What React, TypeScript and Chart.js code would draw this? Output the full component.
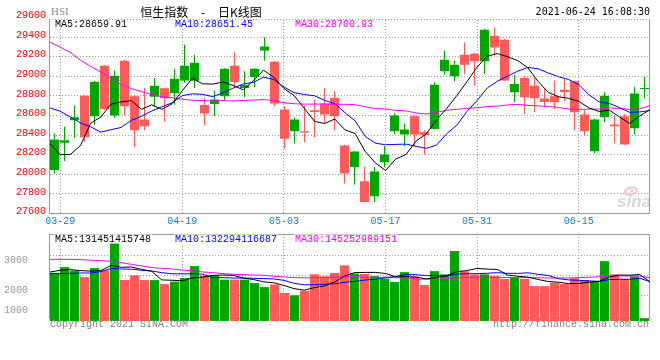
import React, { useEffect, useRef } from 'react';
import { Chart, registerables } from 'chart.js';

Chart.register(...registerables);

// ---------------- data ----------------
const DATES = ['03-26','03-29','03-30','03-31','04-01','04-07','04-08','04-09','04-12','04-13',
  '04-14','04-15','04-16','04-19','04-20','04-21','04-22','04-23','04-26','04-27',
  '04-28','04-29','04-30','05-03','05-04','05-05','05-06','05-07','05-10','05-11',
  '05-12','05-13','05-14','05-17','05-18','05-20','05-21','05-24','05-25','05-26',
  '05-27','05-28','05-31','06-01','06-02','06-03','06-04','06-07','06-08','06-09',
  '06-10','06-11','06-15','06-16','06-17','06-18','06-21','06-22','06-23','06-24'];

const OPEN = [28043, 28321, 28551, 28802, 28592, 29108, 28599, 29158, 28796, 28558,
  28792, 28877, 28826, 28958, 28955, 28708, 28718, 28796, 29108, 28880,
  28992, 29263, 29148, 28660, 28440, 28440, 28653, 28721, 28782, 28294,
  28074, 27928, 27775, 28124, 28440, 28406, 28592, 28430, 28463, 29050,
  28999, 29219, 29230, 29152, 29413, 29372, 28836, 28982, 28904, 28772,
  28796, 28863, 28948, 28609, 28236, 28582, 28508, 28592, 28470, 28871];
const HIGH = [28416, 28486, 28701, 28806, 28951, 29116, 29060, 29166, 28806, 28880,
  28982, 28886, 29077, 29321, 29219, 28779, 28853, 29081, 29243, 29050,
  29081, 29399, 29156, 28694, 28579, 28701, 28762, 28884, 28846, 28301,
  28238, 28074, 28074, 28287, 28619, 28518, 28600, 28450, 28938, 29260,
  29162, 29345, 29238, 29484, 29497, 29382, 29016, 29006, 28982, 28874,
  28958, 28972, 28956, 28653, 28566, 28836, 28599, 28616, 28891, 28992];
const LOW = [28009, 28136, 28372, 28328, 28507, 28656, 28575, 28599, 28277, 28450,
  28694, 28535, 28711, 28931, 28880, 28501, 28592, 28752, 28897, 28785,
  28887, 29162, 28694, 28260, 28314, 28328, 28379, 28524, 28450, 27907,
  27897, 27716, 27718, 28074, 28406, 28287, 28294, 28202, 28456, 29016,
  28948, 29026, 28904, 29026, 29213, 28951, 28735, 28616, 28633, 28687,
  28667, 28745, 28450, 28396, 28213, 28531, 28314, 28296, 28406, 28772];
const CLOSE = [28355, 28346, 28582, 28379, 28945, 28667, 29006, 28694, 28450, 28491,
  28904, 28775, 28975, 29108, 29138, 28619, 28762, 29077, 28941, 28911,
  29077, 29304, 28721, 28362, 28558, 28426, 28636, 28609, 28592, 28009,
  28233, 27718, 28029, 28202, 28599, 28457, 28406, 28402, 28914, 29169,
  29118, 29118, 29152, 29474, 29294, 28958, 28921, 28785, 28775, 28738,
  28735, 28840, 28633, 28440, 28558, 28802, 28491, 28304, 28823, 28880];

const MA5 = [28311, 28202, 28202, 28294, 28521, 28584, 28716, 28738, 28752, 28662,
  28709, 28663, 28719, 28851, 28980, 28923, 28920, 28941, 28907, 28862,
  28954, 29062, 28991, 28875, 28804, 28674, 28541, 28518, 28564, 28454,
  28416, 28232, 28116, 28038, 28156, 28201, 28339, 28413, 28556, 28670,
  28802, 28944, 29094, 29206, 29231, 29199, 29160, 29086, 28947, 28835,
  28791, 28775, 28744, 28677, 28641, 28655, 28585, 28519, 28596, 28660];
const MA10 = [28677, 28643, 28585, 28524, 28484, 28430, 28455, 28478, 28550, 28592,
  28646, 28689, 28729, 28802, 28821, 28816, 28792, 28830, 28879, 28921,
  28938, 28991, 28966, 28891, 28833, 28814, 28801, 28755, 28720, 28629,
  28545, 28386, 28317, 28301, 28305, 28308, 28285, 28265, 28297, 28413,
  28501, 28641, 28754, 28881, 28950, 29001, 29052, 29090, 29076, 29033,
  28995, 28967, 28915, 28812, 28738, 28723, 28680, 28632, 28636, 28651];
const MA30 = [29348, 29297, 29243, 29162, 29101, 29043, 28979, 28914, 28874, 28843,
  28813, 28792, 28782, 28765, 28755, 28752, 28748, 28752, 28748, 28752,
  28758, 28762, 28752, 28730, 28720, 28716, 28716, 28716, 28715, 28714,
  28710, 28689, 28671, 28665, 28653, 28646, 28626, 28616, 28632, 28654,
  28662, 28673, 28679, 28691, 28696, 28708, 28713, 28703, 28698, 28692,
  28681, 28665, 28662, 28665, 28665, 28677, 28672, 28662, 28670, 28699];

// turnover, 亿 HKD
const VOLUME = [1617, 1809, 1691, 1473, 1775, 1701, 2685, 1376, 1534, 1372,
  1372, 1238, 1322, 1443, 1842, 1517, 1527, 1389, 1389, 1389,
  1272, 1138, 1225, 940, 862, 1013, 1567, 1500, 1611, 1869,
  1594, 1577, 1507, 1423, 1309, 1641, 1490, 1208, 1674, 1567,
  2349, 1668, 1560, 1567, 1507, 1409, 1466, 1413, 1171, 1171,
  1282, 1242, 1433, 1376, 1322, 2010, 1567, 1413, 1500, 83];
const VOL_MA5 = [1644, 1701, 1725, 1691, 1673, 1690, 1865, 1802, 1814, 1734,
  1668, 1378, 1368, 1349, 1443, 1472, 1530, 1544, 1533, 1442,
  1393, 1315, 1283, 1193, 1087, 1036, 1121, 1176, 1311, 1512,
  1628, 1630, 1632, 1594, 1482, 1491, 1474, 1414, 1464, 1516,
  1658, 1693, 1764, 1742, 1730, 1542, 1502, 1472, 1393, 1326,
  1301, 1256, 1260, 1301, 1331, 1477, 1542, 1538, 1562, 1315];
const VOL_MA10 = [1591, 1591, 1601, 1611, 1611, 1655, 1760, 1745, 1740, 1703,
  1679, 1622, 1585, 1582, 1589, 1570, 1454, 1456, 1441, 1443,
  1433, 1423, 1413, 1363, 1265, 1214, 1218, 1230, 1252, 1300,
  1332, 1376, 1404, 1452, 1497, 1560, 1552, 1523, 1529, 1499,
  1575, 1584, 1589, 1603, 1623, 1600, 1598, 1618, 1568, 1528,
  1421, 1379, 1366, 1347, 1329, 1389, 1399, 1399, 1432, 1323];
const VOL_MA30 = [2070, 2070, 2070, 2060, 2037, 2026, 2003, 1959, 1900, 1850,
  1792, 1768, 1745, 1711, 1691, 1644, 1624, 1591, 1567, 1557,
  1544, 1534, 1500, 1477, 1456, 1450, 1455, 1460, 1470, 1482,
  1481, 1473, 1467, 1466, 1450, 1448, 1408, 1403, 1407, 1414,
  1446, 1461, 1469, 1473, 1462, 1458, 1456, 1457, 1450, 1442,
  1443, 1446, 1453, 1468, 1483, 1516, 1516, 1513, 1510, 1450];

const X_TICK_DATES = ['03-29', '04-19', '05-03', '05-17', '05-31', '06-15'];
const PRICE_TICKS = [27600, 27800, 28000, 28200, 28400, 28600, 28800, 29000, 29200, 29400, 29600];
const VOL_TICK_LABELS = ['3000', '2000', '1000'];

const CODE_TEXT = 'HSI';
const TITLE_TEXT = '恒生指数 - 日K线图';
const TIME_TEXT = '2021-06-24 16:08:30';
const MA_TEXTS = ['MA5:28659.91', 'MA10:28651.45', 'MA30:28700.93'];
const VOL_MA_TEXTS = ['MA5:131451415748', 'MA10:132294116687', 'MA30:145252989151'];
const COPYRIGHT_TEXT = 'Copyright 2021 SINA.COM';
const URL_TEXT = 'http://finance.sina.com.cn';
const WATERMARK_TEXT = 'sina';

// ---------------- style / layout ----------------
const UP_COLOR = '#00a600';
const DOWN_COLOR = '#ff5a5a';
const GRID_COLOR = '#a0a0a0';
const FRAME_COLOR = '#999999';
const MA_COLORS = ['#000000', '#0000ff', '#ff00ff'];
const MONO = '"Liberation Mono", "DejaVu Sans Mono", monospace';
const Y_MIN = 27600;
const Y_MAX = 29574;
const VOL_MAX = 2920;
const TEXT_X = [55, 175, 295];
const VOL_PANEL_H = 87;
const VOL_LABEL_POS = [60.7, 30.3, 10.3];
const VOL_GRID_POS = [65.7, 45.7, 25.7];

const candleColors = OPEN.map((o, i) => (CLOSE[i] >= o ? UP_COLOR : DOWN_COLOR));

const lineDs = (data: number[], color: string) => ({
  type: 'line' as const,
  data: data.map((v, i) => ({ x: i, y: v })),
  xAxisID: 'xg',
  borderColor: color,
  borderWidth: 1,
  pointRadius: 0,
  tension: 0,
  fill: false,
  order: 0,
});

const noPad = (s: any) => {
  s.paddingTop = 0;
  s.paddingBottom = 0;
  s.paddingLeft = 0;
  s.paddingRight = 0;
};

const barAxis = () => ({
  type: 'linear' as const,
  min: -0.45,
  max: DATES.length - 0.45,
  offset: false,
  bounds: 'data' as const,
  display: false,
  grid: { offset: false },
});

const gridAxis = (height: number) => ({
  type: 'linear' as const,
  position: 'bottom' as const,
  min: 0,
  max: DATES.length - 1,
  offset: false,
  bounds: 'data' as const,
  afterBuildTicks: (s: any) => {
    s.ticks = X_TICK_DATES.map((d) => ({ value: DATES.indexOf(d) }));
  },
  afterFit: (s: any) => {
    s.height = height;
    noPad(s);
  },
  grid: { color: GRID_COLOR, drawTicks: false, lineWidth: 1, offset: false },
  border: { display: false, dash: [1, 2] },
});

function drawLabel(ctx: CanvasRenderingContext2D, text: string, x: number, y: number, color: string) {
  const w = ctx.measureText(text).width;
  ctx.fillStyle = '#ffffff';
  ctx.fillRect(x - 1, y - 4.5, w + 2, 9);
  ctx.fillStyle = color;
  ctx.fillText(text, x, y);
}

const mainDecor = {
  id: 'mainDecor',
  beforeDatasetsDraw(chart: any) {
    const { ctx, chartArea: a } = chart;
    ctx.save();
    // watermark
    ctx.strokeStyle = '#f4c4c4';
    ctx.lineWidth = 2;
    ctx.beginPath();
    ctx.ellipse(631, 191, 6, 3.5, -0.2, 0, Math.PI * 2);
    ctx.stroke();
    ctx.fillStyle = '#f4c4c4';
    ctx.beginPath();
    ctx.arc(632, 191, 1.6, 0, Math.PI * 2);
    ctx.fill();
    ctx.font = 'italic bold 17px "Liberation Sans", sans-serif';
    ctx.fillStyle = '#d6d6d6';
    ctx.textAlign = 'right';
    ctx.textBaseline = 'alphabetic';
    ctx.fillText(WATERMARK_TEXT, 651, 207);
    // frame
    const L = Math.round(a.left) - 1;
    const R = Math.round(a.right) - 1;
    const T = Math.round(a.top);
    const B = Math.floor(a.bottom);
    ctx.fillStyle = FRAME_COLOR;
    ctx.fillRect(L, T, 1, B - T + 1);
    ctx.fillRect(R, T, 1, B - T + 1);
    ctx.fillRect(L, B, R - L + 1, 1);
    ctx.fillStyle = GRID_COLOR;
    for (let x = L; x <= R; x += 3) ctx.fillRect(x, T - 1, 1, 1);
    ctx.restore();
  },
  afterDraw(chart: any) {
    const { ctx } = chart;
    ctx.save();
    ctx.textBaseline = 'middle';
    ctx.textAlign = 'left';
    ctx.font = '11px "Liberation Serif", serif';
    ctx.fillStyle = '#888888';
    ctx.fillText(CODE_TEXT, 51, 12);
    ctx.font = '12px "Noto Sans CJK SC", sans-serif';
    ctx.fillStyle = '#000000';
    ctx.textAlign = 'center';
    (ctx as any).wordSpacing = '10px';
    ctx.fillText(TITLE_TEXT, 201, 12);
    (ctx as any).wordSpacing = '0px';
    ctx.font = '10px "DejaVu Sans Mono", monospace';
    ctx.textAlign = 'right';
    ctx.fillText(TIME_TEXT, 650, 12.5);
    ctx.textAlign = 'left';
    ctx.font = `10px ${MONO}`;
    MA_TEXTS.forEach((t, k) => drawLabel(ctx, t, TEXT_X[k], 24.5, MA_COLORS[k]));
    ctx.restore();
  },
};

const volDecor = {
  id: 'volDecor',
  beforeDatasetsDraw(chart: any) {
    const { ctx, chartArea: a } = chart;
    ctx.save();
    const L = Math.round(a.left) - 1;
    const R = Math.round(a.right) - 1;
    const T = Math.round(a.top);
    const B = Math.floor(a.bottom) - 3;
    ctx.fillStyle = FRAME_COLOR;
    ctx.fillRect(L, T, R - L + 1, 1);
    ctx.fillRect(L, T, 1, B - T + 1);
    ctx.fillRect(R, T, 1, B - T + 1);
    ctx.fillRect(L, B, R - L + 1, 1);
    ctx.restore();
  },
  afterDraw(chart: any) {
    const { ctx, chartArea: a } = chart;
    ctx.save();
    ctx.textBaseline = 'middle';
    ctx.textAlign = 'left';
    ctx.font = `10px ${MONO}`;
    VOL_MA_TEXTS.forEach((t, k) => drawLabel(ctx, t, TEXT_X[k], a.top + 5, MA_COLORS[k]));
    ctx.fillStyle = '#808080';
    ctx.font = `10px ${MONO}`;
    ctx.fillText(COPYRIGHT_TEXT, 50, a.bottom + 3.5);
    ctx.textAlign = 'right';
    ctx.fillText(URL_TEXT, 649, a.bottom + 3.5);
    ctx.restore();
  },
};

function mainConfig(): any {
  return {
    type: 'bar',
    data: {
      datasets: [
        lineDs(MA5, MA_COLORS[0]),
        lineDs(MA10, MA_COLORS[1]),
        lineDs(MA30, MA_COLORS[2]),
        {
          type: 'bar',
          label: 'body',
          data: OPEN.map((o, i) => ({ x: i, y: [o, CLOSE[i]] })),
          xAxisID: 'x',
          backgroundColor: candleColors,
          barThickness: 9,
          grouped: false,
          minBarLength: 1,
          inflateAmount: 0,
          borderWidth: 0,
          order: 1,
        },
        {
          type: 'bar',
          label: 'wick',
          data: LOW.map((l, i) => ({ x: i, y: [l, HIGH[i]] })),
          xAxisID: 'x',
          backgroundColor: candleColors,
          barThickness: 1,
          grouped: false,
          inflateAmount: 0,
          borderWidth: 0,
          order: 2,
        },
      ],
    },
    options: {
      animation: false,
      responsive: false,
      devicePixelRatio: 1,
      events: [],
      layout: { padding: { top: 20, right: 10, bottom: 0, left: 0 } },
      plugins: { legend: { display: false }, tooltip: { enabled: false } },
      scales: {
        x: barAxis(),
        xg: {
          ...gridAxis(18.5),
          ticks: {
            autoSkip: false,
            maxRotation: 0,
            padding: 2,
            color: '#0a84d6',
            font: { family: MONO, size: 10 },
            callback: (v: number) => DATES[v],
          },
        },
        y: {
          type: 'linear',
          position: 'left',
          min: Y_MIN,
          max: Y_MAX,
          bounds: 'data',
          beginAtZero: false,
          afterBuildTicks: (s: any) => {
            s.ticks = PRICE_TICKS.map((v) => ({ value: v }));
          },
          afterFit: (s: any) => {
            s.width = 50;
            noPad(s);
          },
          ticks: {
            autoSkip: false,
            padding: 4,
            labelOffset: -2,
            color: '#ff0000',
            font: { family: MONO, size: 10 },
            callback: (v: number) => String(v),
          },
          grid: {
            drawTicks: false,
            color: (c: any) => (c.tick && (c.tick.value > Y_MAX || c.tick.value <= Y_MIN) ? 'rgba(0,0,0,0)' : GRID_COLOR),
          },
          border: { display: false, dash: [1, 2] },
        },
      },
    },
    plugins: [mainDecor],
  };
}

function volConfig(): any {
  return {
    type: 'bar',
    data: {
      datasets: [
        { ...lineDs(VOL_MA5, MA_COLORS[0]), yAxisID: 'yv' },
        { ...lineDs(VOL_MA10, MA_COLORS[1]), yAxisID: 'yv' },
        { ...lineDs(VOL_MA30, MA_COLORS[2]), yAxisID: 'yv' },
        {
          type: 'bar',
          label: 'volume',
          data: VOLUME.map((v, i) => ({ x: i, y: v })),
          xAxisID: 'x',
          yAxisID: 'yv',
          backgroundColor: candleColors,
          barThickness: 9,
          grouped: false,
          inflateAmount: 0,
          borderWidth: 0,
          order: 1,
        },
      ],
    },
    options: {
      animation: false,
      responsive: false,
      devicePixelRatio: 1,
      events: [],
      layout: { padding: { top: 2, right: 10, bottom: 39, left: 0 } },
      plugins: { legend: { display: false }, tooltip: { enabled: false } },
      scales: {
        x: barAxis(),
        xg: { ...gridAxis(0), ticks: { display: false } },
        yv: { type: 'linear', min: 0, max: VOL_MAX, display: false },
        yl: {
          type: 'linear',
          position: 'left',
          min: 0,
          max: VOL_PANEL_H,
          bounds: 'data',
          afterBuildTicks: (s: any) => {
            s.ticks = VOL_LABEL_POS.map((v) => ({ value: v }));
          },
          afterFit: (s: any) => {
            s.width = 50;
            noPad(s);
          },
          ticks: {
            autoSkip: false,
            padding: 22,
            color: '#999999',
            font: { family: MONO, size: 10 },
            callback: (_v: number, i: number) => VOL_TICK_LABELS[i],
          },
          grid: { display: false, drawTicks: false },
          border: { display: false },
        },
        yg: {
          type: 'linear',
          position: 'right',
          min: 0,
          max: VOL_PANEL_H,
          bounds: 'data',
          afterBuildTicks: (s: any) => {
            s.ticks = VOL_GRID_POS.map((v) => ({ value: v }));
          },
          afterFit: (s: any) => {
            s.width = 0;
            noPad(s);
          },
          ticks: { display: false },
          grid: { color: GRID_COLOR, drawTicks: false },
          border: { display: false, dash: [1, 2] },
        },
      },
    },
    plugins: [volDecor],
  };
}

export default function App() {
  const mainRef = useRef<HTMLCanvasElement>(null);
  const volRef = useRef<HTMLCanvasElement>(null);

  useEffect(() => {
    const c1 = new Chart(mainRef.current as HTMLCanvasElement, mainConfig());
    const c2 = new Chart(volRef.current as HTMLCanvasElement, volConfig());
    return () => {
      c1.destroy();
      c2.destroy();
    };
  }, []);

  return (
    <div style={{ position: 'absolute', left: 0, top: 0, width: 660, height: 360, background: '#ffffff', overflow: 'hidden' }}>
      <canvas ref={mainRef} width={660} height={232} style={{ position: 'absolute', left: 0, top: 0, width: 660, height: 232 }} />
      <canvas ref={volRef} width={660} height={128} style={{ position: 'absolute', left: 0, top: 232, width: 660, height: 128 }} />
    </div>
  );
}
